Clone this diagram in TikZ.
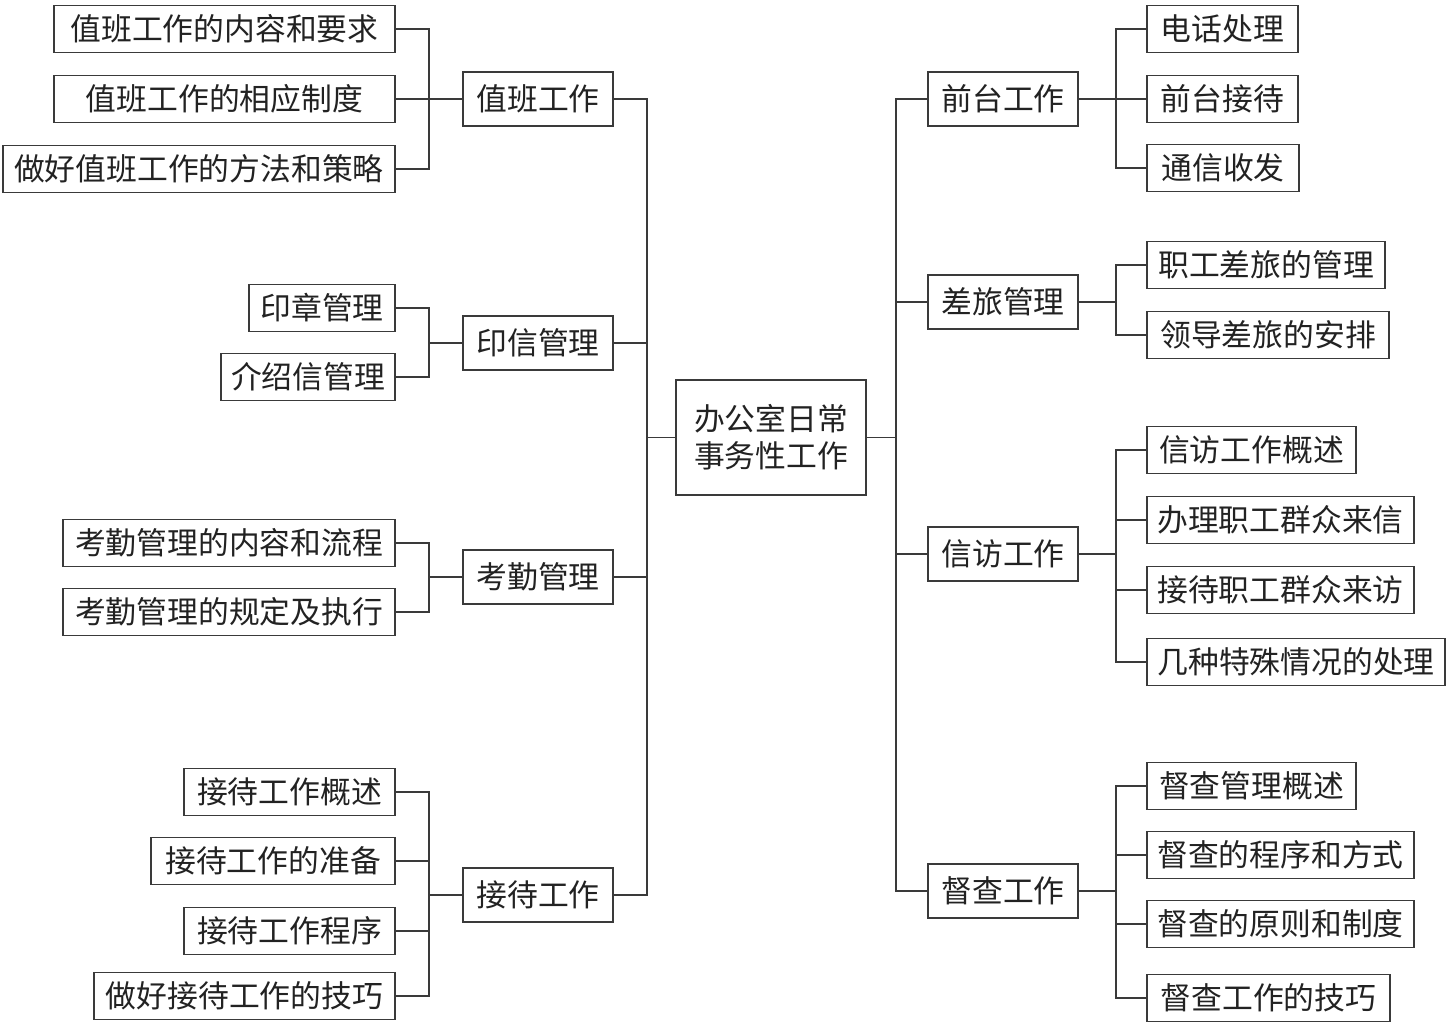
\documentclass[tikz,border=0pt]{standalone}
\usepackage{fontspec}
\newfontfamily\cjk{Noto Sans CJK SC}
\definecolor{lc}{HTML}{3A3A3A}
\definecolor{tc}{HTML}{222222}
\begin{document}
\begin{tikzpicture}[x=1pt,y=-1pt,
  box/.style={draw=lc, line width=1.6pt, inner sep=0pt, text=tc,
    font=\cjk\fontsize{30.8}{37}\selectfont, align=center},
  lf/.style={box, minimum height=47pt},
  md/.style={box, minimum width=150pt, minimum height=54pt},
  link/.style={draw=lc, line width=1.6pt}]
\useasboundingbox (0,0) rectangle (1452,1024);
% root
\node[box, minimum width=190pt, minimum height=115pt] (root) at (771,437.5) {办公室日常\\事务性工作};
% left middle nodes
\node[md] (A) at (538,99) {值班工作};
\node[md] (B) at (538,343) {印信管理};
\node[md] (C) at (538,577) {考勤管理};
\node[md] (D) at (538,895) {接待工作};
% right middle nodes
\node[md] (E) at (1003,99) {前台工作};
\node[md] (F) at (1003,302) {差旅管理};
\node[md] (G) at (1003,554) {信访工作};
\node[md] (H) at (1003,891) {督查工作};
% left leaves
\node[lf, minimum width=341pt] (a1) at (224.5,29) {值班工作的内容和要求};
\node[lf, minimum width=341pt] (a2) at (224.5,99) {值班工作的相应制度};
\node[lf, minimum width=392pt] (a3) at (199,169) {做好值班工作的方法和策略};
\node[lf, minimum width=146pt] (b1) at (322,308) {印章管理};
\node[lf, minimum width=174pt] (b2) at (308,377) {介绍信管理};
\node[lf, minimum width=332pt] (c1) at (229,543) {考勤管理的内容和流程};
\node[lf, minimum width=332pt] (c2) at (229,612) {考勤管理的规定及执行};
\node[lf, minimum width=211pt] (d1) at (289.5,792) {接待工作概述};
\node[lf, minimum width=244pt] (d2) at (273,861) {接待工作的准备};
\node[lf, minimum width=211pt] (d3) at (289.5,931) {接待工作程序};
\node[lf, minimum width=301pt] (d4) at (244.5,996) {做好接待工作的技巧};
% right leaves
\node[lf, minimum width=151pt] (e1) at (1222.5,29) {电话处理};
\node[lf, minimum width=151pt] (e2) at (1222.5,99) {前台接待};
\node[lf, minimum width=152pt] (e3) at (1223,168) {通信收发};
\node[lf, minimum width=238pt] (f1) at (1266,265) {职工差旅的管理};
\node[lf, minimum width=242pt] (f2) at (1268,335) {领导差旅的安排};
\node[lf, minimum width=209pt] (g1) at (1251.5,450) {信访工作概述};
\node[lf, minimum width=267pt] (g2) at (1280.5,520) {办理职工群众来信};
\node[lf, minimum width=267pt] (g3) at (1280.5,590) {接待职工群众来访};
\node[lf, minimum width=298pt] (g4) at (1296,662) {几种特殊情况的处理};
\node[lf, minimum width=209pt] (h1) at (1251.5,786) {督查管理概述};
\node[lf, minimum width=267pt] (h2) at (1280.5,855) {督查的程序和方式};
\node[lf, minimum width=267pt] (h3) at (1280.5,924) {督查的原则和制度};
\node[lf, minimum width=243pt] (h4) at (1268.5,998) {督查工作的技巧};
% left connectors
\foreach \l/\m in {a1/A,a2/A,a3/A,b1/B,b2/B,c1/C,c2/C,d1/D,d2/D,d3/D,d4/D}
  \draw[link] (\l.east) -- ++(33,0) |- (\m.west);
\foreach \m in {A,B,C,D}
  \draw[link] (\m.east) -- ++(33,0) |- (root.west);
% right connectors
\foreach \m in {E,F,G,H}
  \draw[link] (root.east) -- ++(29,0) |- (\m.west);
\foreach \m/\l in {E/e1,E/e2,E/e3,F/f1,F/f2,G/g1,G/g2,G/g3,G/g4,H/h1,H/h2,H/h3,H/h4}
  \draw[link] (\m.east) -- ++(37,0) |- (\l.west);
\end{tikzpicture}
\end{document}
